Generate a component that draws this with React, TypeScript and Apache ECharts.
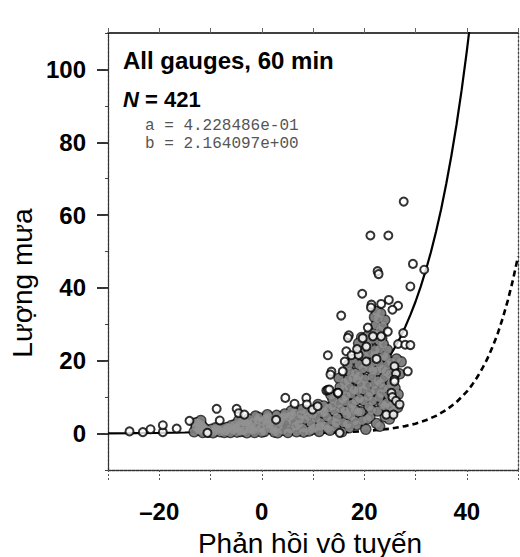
import React, { useEffect, useRef } from "react";
import * as echarts from "echarts";

const xLabelValues = [-20, 0, 20, 40];
const yLabelValues = [0, 20, 40, 60, 80, 100];

const titleText = "All gauges, 60 min";
const countText = "421";
const coefA = "a = 4.228486e-01";
const coefB = "b = 2.164097e+00";
const xName = "Phản hồi vô tuyến";
const yName = "Lượng mưa";

// fitted curve (solid)
const solidX = [-30, -25, -20, -15, -10, -5, 0, 5, 10, 15, 20, 22, 24, 25, 26, 27, 28, 29, 30, 31, 32, 33, 34, 35, 36, 37, 38, 39, 40, 40.5, 41];
const solidY = [0.06, 0.1, 0.18, 0.3, 0.51, 0.87, 1.49, 2.53, 4.31, 7.34, 12.5, 15.5, 19.1, 21.3, 23.7, 26.3, 29.3, 32.6, 36.2, 40.3, 44.8, 49.8, 55.4, 61.6, 68.6, 76.3, 84.8, 94.3, 104.9, 110.7, 116.6];

// reference curve (dashed)
const dashedX = [10, 15, 20, 25, 28, 30, 32, 34, 36, 38, 40, 41, 42, 43, 44, 45, 46, 47, 48, 49, 50];
const dashedY = [0.15, 0.32, 0.65, 1.33, 2.05, 2.73, 3.65, 4.87, 6.48, 8.65, 11.5, 13.3, 15.4, 17.8, 20.5, 23.7, 27.3, 31.6, 36.5, 42.1, 48.6];

// gauge observations: dense cloud (overlapping, reads as a grey mass)
const denseCloud: number[][] = [
  [-13.2, 0.5], [-12.8, 1.8], [-12.5, 3.0], [-12.1, 0.9], [-11.8, 2.4], [-11.5, 0.3], [-11.2, 1.5], [-12.9, 2.9], [-11.9, 3.6],
  [-10.4, 0.4], [-9.8, 1.2], [-9.3, 0.6], [-8.7, 1.4], [-8.1, 0.5], [-7.6, 1.4], [-7.0, 0.8], [-6.5, 1.6], [-6.1, 0.3], [-9.0, 1.6],
  [-5.6, 1.0], [-5.2, 2.5], [-4.8, 0.4], [-4.3, 1.9], [-3.9, 3.3], [-3.5, 0.7], [-3.0, 2.5], [-2.6, 4.0], [-2.2, 1.2], [-1.8, 3.1],
  [-1.4, 0.3], [-1.0, 2.0], [-0.6, 4.4], [-0.2, 1.5], [0.2, 3.4], [-4.5, 3.6], [-2.9, 0.2], [-1.2, 4.8],
  [0.5, 0.6], [0.9, 2.5], [1.3, 4.6], [1.7, 1.3], [2.1, 3.3], [2.5, 0.4], [2.9, 5.0], [3.3, 2.1], [3.7, 4.0], [4.1, 0.9], [4.5, 5.4], [4.9, 2.8], [1.1, 5.2], [3.1, 0.2],
  [5.3, 4.6], [5.6, 1.2], [6.0, 3.5], [6.4, 5.8], [6.8, 0.5], [7.2, 2.6], [7.6, 5.2], [8.0, 1.5], [8.4, 3.9], [8.8, 6.2], [9.2, 0.7], [9.6, 2.9], [9.9, 5.3], [5.8, 6.3], [7.9, 6.6],
  [10.3, 1.6], [10.6, 4.2], [10.9, 6.9], [11.2, 0.6], [11.5, 3.0], [11.8, 5.7], [12.1, 7.6], [12.4, 2.1], [12.7, 4.6], [13.0, 7.0], [13.3, 0.9], [13.6, 3.6], [13.9, 9.4], [14.2, 6.1], [11.0, 8.0], [13.5, 10.6],
  [14.4, 1.8], [14.7, 4.4], [15.0, 8.3], [15.3, 12.8], [15.6, 0.5], [15.9, 3.0], [16.2, 6.2], [16.5, 10.4], [16.8, 14.7], [17.1, 1.6], [17.4, 4.8], [17.7, 8.1], [18.0, 12.0], [18.3, 16.6], [15.1, 15.2], [16.9, 18.8], [17.9, 20.4], [14.6, 10.9],
  [18.5, 2.4], [18.8, 5.9], [19.1, 9.6], [19.4, 13.5], [19.7, 17.8], [20.0, 21.3], [20.3, 1.2], [20.6, 4.0], [20.9, 7.4], [21.2, 11.3], [21.5, 15.6], [21.8, 19.7], [22.1, 23.0], [19.2, 22.6], [20.7, 24.1], [22.4, 2.8],
  [22.6, 6.2], [22.9, 9.9], [23.2, 13.8], [23.5, 17.7], [23.8, 21.2], [24.1, 4.6], [24.4, 8.4], [24.7, 12.3], [25.0, 16.2], [25.3, 19.6], [25.6, 6.1], [25.9, 10.0], [23.0, 2.0], [24.9, 4.0],
  [21.8, 27.5], [22.3, 29.8], [22.7, 31.6], [23.1, 28.3], [21.5, 25.9], [23.4, 26.2], [22.0, 32.0],
  [18.9, 24.8], [19.5, 26.4], [20.2, 25.5], [20.8, 27.0],
  [-12.3, 1.2], [-11.6, 2.0], [-10.8, 1.0], [-9.5, 0.2], [-8.4, 1.1], [-7.3, 0.3], [-6.8, 1.7], [-5.9, 2.2], [-5.0, 1.6], [-4.1, 0.6],
  [-3.3, 3.2], [-2.4, 2.3], [-1.6, 1.0], [-0.8, 3.7], [0.0, 0.4], [0.7, 4.1], [1.5, 2.6], [2.3, 1.1], [3.5, 3.1], [4.3, 4.7],
  [5.1, 0.3], [5.9, 5.0], [6.6, 2.0], [7.4, 4.0], [8.2, 0.4], [9.0, 4.8], [9.8, 1.1], [10.5, 6.2], [11.4, 2.0], [12.2, 5.9],
  [12.9, 1.4], [13.8, 7.6], [14.5, 3.0], [15.4, 6.8], [16.0, 12.0], [16.7, 2.6], [17.5, 10.9], [18.2, 6.5], [19.0, 18.9], [19.6, 3.6],
  [20.1, 15.0], [20.8, 10.2], [21.4, 6.5], [21.9, 13.5], [22.5, 17.2], [23.3, 11.0], [23.9, 15.4], [24.6, 18.9], [25.2, 13.7], [25.8, 8.2],
  [24.0, 7.5], [22.8, 20.7], [21.0, 18.0], [19.8, 12.0], [18.6, 14.8], [17.2, 16.9], [16.3, 8.8],
  [15.8, 9.5], [16.1, 14.0], [16.6, 5.2], [17.0, 12.9], [17.3, 7.0], [17.8, 15.2], [18.1, 3.5], [18.4, 9.0], [18.7, 11.8], [19.3, 6.0],
  [19.0, 15.8], [19.9, 9.0], [20.2, 19.2], [20.5, 13.2], [20.9, 22.0], [21.1, 4.6], [21.6, 9.0], [21.7, 17.4], [22.2, 11.9], [22.0, 21.5],
  [22.7, 14.5], [23.0, 19.0], [23.0, 23.2], [23.6, 8.0], [23.7, 12.5], [24.2, 17.0], [24.3, 21.0], [24.8, 10.5], [25.1, 7.4], [25.4, 15.0],
  [25.7, 18.0], [26.0, 12.5], [26.3, 20.5], [26.6, 10.8], [26.9, 16.4], [27.2, 19.7], [26.5, 7.2], [24.5, 23.0], [23.7, 24.6], [22.9, 25.5],
  [22.6, 27.0], [23.6, 29.5], [24.0, 31.2], [23.2, 33.0], [22.4, 33.5]
];

// gauge observations: scattered points
const outlierPoints: number[][] = [
  [-25.8, 0.6], [-23.2, 0.4], [-21.7, 1.2], [-19.3, 0.4], [-19.3, 2.3], [-16.6, 1.4], [-14.1, 3.5], [-8.8, 6.8], [-8.2, 3.6],
  [-4.9, 6.8], [-4.5, 5.6], [-3.4, 5.2], [-10.6, 0.2], [2.8, 3.8], [4.6, 9.8], [6.4, 8.2], [8.7, 9.8], [8.8, 8.0], [9.9, 6.6],
  [10.9, 7.5], [12.6, 11.8], [12.9, 12.0], [14.8, 11.2], [15.2, 0.2], [12.9, 21.5], [13.6, 17.0], [13.4, 16.2], [15.8, 17.1],
  [16.2, 19.8], [16.5, 22.6], [17.5, 21.5], [18.9, 21.6], [18.6, 23.2], [20.4, 23.9], [20.4, 19.8], [22.4, 20.5], [15.5, 32.4],
  [17.0, 27.0], [16.8, 26.3], [19.7, 26.2], [19.6, 38.4], [20.7, 29.1], [21.4, 35.4], [21.3, 34.6], [23.3, 35.6], [24.8, 36.7],
  [26.6, 35.1], [25.5, 34.0], [21.7, 26.7], [23.3, 26.7], [24.6, 28.0], [27.6, 27.6], [26.6, 24.6], [28.0, 24.4], [29.0, 24.3],
  [28.5, 17.1], [25.9, 18.5], [26.2, 16.5], [25.9, 14.8], [25.3, 11.2], [25.9, 14.3], [25.5, 10.0], [26.2, 9.0], [26.9, 8.0],
  [24.3, 5.2], [25.7, 5.2], [22.6, 44.6], [22.8, 43.8], [29.5, 46.6], [31.7, 45.0], [29.0, 40.4], [21.2, 54.4], [24.7, 54.4],
  [27.7, 63.7], [13.2, 12.1], [14.9, 11.2]
];

const FONT = '"Liberation Sans", Arial, Helvetica, sans-serif';
const MONO = '"Liberation Mono", "DejaVu Sans Mono", monospace';

export default function App() {
  const ref = useRef<HTMLDivElement>(null);
  useEffect(() => {
    const chart = echarts.init(ref.current!, null, { renderer: "svg" });
    const xCommon = { type: "value", min: -30, max: 50, interval: 10, splitLine: { show: false } };
    const yCommon = { type: "value", min: -10, max: 110, interval: 10, splitLine: { show: false } };
    chart.setOption({
      animation: false,
      backgroundColor: "#fff",
      grid: { left: 108, right: 2, top: 33, bottom: 87, show: false },
      xAxis: [
        {
          ...xCommon, position: "bottom",
          axisLine: { show: true, onZero: false, lineStyle: { color: "#333", width: 1.3, type: [3, 1] } },
          axisTick: { show: true, inside: false, length: 10, lineStyle: { color: "#555", width: 1, type: [2, 2] } },
          axisLabel: {
            show: true, margin: 29, fontSize: 24, fontWeight: "bold", color: "#000", fontFamily: FONT,
            customValues: xLabelValues,
            formatter: (v: number) => (xLabelValues.indexOf(v) >= 0 ? (v < 0 ? "–" + -v : String(v)) : ""),
          },
        },
        {
          ...xCommon, position: "top",
          axisLine: { show: true, onZero: false, lineStyle: { color: "#000", width: 1.6 } },
          axisTick: { show: true, inside: false, length: 5, lineStyle: { color: "#666", width: 1 } },
          axisLabel: { show: false },
        },
      ],
      yAxis: [
        {
          ...yCommon, position: "left",
          axisLine: { show: true, onZero: false, lineStyle: { color: "#333", width: 1.3, type: [3, 1] } },
          axisTick: { show: true, inside: false, length: 11, customValues: yLabelValues, lineStyle: { color: "#000", width: 1.6 } },
          axisLabel: {
            show: true, margin: 22, fontSize: 24, fontWeight: "bold", color: "#000", fontFamily: FONT,
            customValues: yLabelValues,
            formatter: (v: number) => (yLabelValues.indexOf(v) >= 0 ? String(v) : ""),
          },
        },
        {
          ...yCommon, position: "left",
          axisLine: { show: false, onZero: false },
          axisTick: { show: true, inside: false, length: 3, lineStyle: { color: "#444", width: 1 } },
          axisLabel: { show: false },
        },
        {
          ...yCommon, position: "right",
          axisLine: { show: true, onZero: false, lineStyle: { color: "#444", width: 1.3, type: [2, 2] } },
          axisTick: { show: false },
          axisLabel: { show: false },
        },
      ],
      series: [
        {
          type: "line", xAxisIndex: 0, yAxisIndex: 0, showSymbol: false, symbol: "none", z: 2,
          data: solidX.map((x, i) => [x, solidY[i]]),
          lineStyle: { color: "#000", width: 2.2 },
        },
        {
          type: "line", xAxisIndex: 0, yAxisIndex: 0, showSymbol: false, symbol: "none", z: 2,
          data: dashedX.map((x, i) => [x, dashedY[i]]),
          lineStyle: { color: "#000", width: 2.6, type: [6, 4] },
        },
        {
          type: "scatter", xAxisIndex: 0, yAxisIndex: 0, z: 3,
          symbol: "circle", symbolSize: 11.5,
          data: denseCloud,
          itemStyle: { color: "#111" },
        },
        {
          type: "scatter", xAxisIndex: 0, yAxisIndex: 0, z: 4,
          symbol: "circle", symbolSize: 8.6,
          data: denseCloud,
          itemStyle: { color: "#929292" },
        },
        {
          type: "scatter", xAxisIndex: 0, yAxisIndex: 0, z: 5,
          symbol: "circle", symbolSize: 8,
          data: outlierPoints,
          itemStyle: { color: "#fff", borderColor: "#000", borderWidth: 2 },
        },
      ],
      graphic: [
        {
          type: "text", x: 123, y: 60, z: 10,
          style: { text: titleText, fontSize: 24, fontWeight: "bold", fontFamily: FONT, fill: "#000", align: "left", verticalAlign: "middle" },
        },
        {
          type: "text", x: 123, y: 99, z: 10,
          style: {
            text: "{i|N} = " + countText, fontSize: 22, fontWeight: "bold", fontFamily: FONT, fill: "#000", align: "left", verticalAlign: "middle",
            rich: { i: { fontStyle: "italic", fontSize: 22, fontWeight: "bold", fontFamily: FONT, fill: "#000" } },
          },
        },
        {
          type: "text", x: 145, y: 126, z: 10,
          style: { text: coefA, fontSize: 16, fontFamily: MONO, fill: "#555", align: "left", verticalAlign: "middle" },
        },
        {
          type: "text", x: 145, y: 144, z: 10,
          style: { text: coefB, fontSize: 16, fontFamily: MONO, fill: "#555", align: "left", verticalAlign: "middle" },
        },
        {
          type: "text", x: 310, y: 543, z: 10,
          style: { text: xName, fontSize: 28, fontFamily: FONT, fill: "#000", align: "center", verticalAlign: "middle" },
        },
        {
          type: "text", x: 22, y: 283, rotation: Math.PI / 2, z: 10,
          style: { text: yName, fontSize: 28, fontFamily: FONT, fill: "#000", align: "center", verticalAlign: "middle" },
        },
      ],
    });
    return () => chart.dispose();
  }, []);
  return <div ref={ref} style={{ position: "absolute", left: 0, top: 0, width: 520, height: 557, background: "#fff" }} />;
}
